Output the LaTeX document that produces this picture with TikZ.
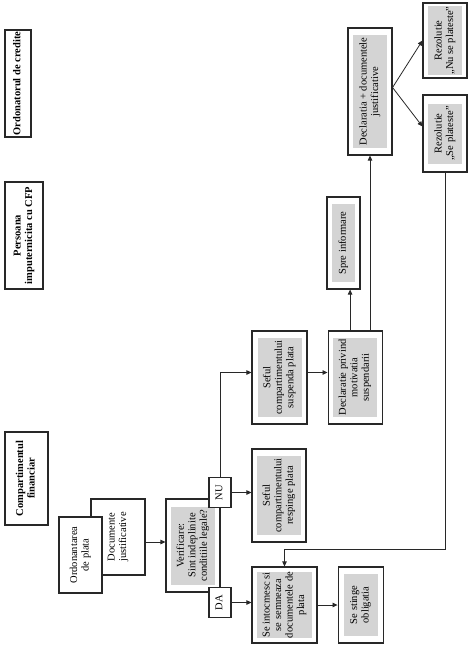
\documentclass[tikz,border=0pt]{standalone}
\usepackage{fontspec}
\setmainfont{Liberation Serif}
\usepackage{graphicx}
\usetikzlibrary{arrows.meta,positioning}
\definecolor{boxgray}{RGB}{212,212,212}
\definecolor{linegray}{RGB}{40,40,40}
\newcommand{\vtext}[1]{\rotatebox{90}{\begin{tabular}{@{}c@{}}#1\end{tabular}}}

\begin{document}
\begin{tikzpicture}[x=1pt,y=-1pt,
      arr/.style={-{Triangle[length=5pt,width=4.5pt]},line width=0.8pt,draw=linegray},
      box/.style={draw=linegray,line width=1.1pt,fill=white,inner sep=0pt,
                  font=\fontsize{10.5}{11.5}\selectfont},
      title/.style={box,font=\fontsize{10.5}{11.5}\selectfont\bfseries},
      lbl/.style={fill=boxgray,inner sep=0pt,font=\fontsize{10.5}{11.5}\selectfont}
    ]
    \useasboundingbox (0,0) rectangle (470,648);

    % actors
    \node[title,minimum width=26pt,minimum height=107pt] (ordcred) at (18,83.5)
          {\vtext{Ordonatorul de credite}};
    \node[title,minimum width=38pt,minimum height=107pt] (persoana) at (24,235.5)
          {\vtext{Persoana\\imputernicita cu CFP}};
    \node[title,minimum width=43pt,minimum height=93pt] (compart) at (26.5,478.5)
          {\vtext{Compartimentul\\financiar}};

    % input documents
    \node[box,minimum width=54pt,minimum height=76pt] (doc) at (118,537)
          {\vtext{Documente\\justificative}};
    \node[box,minimum width=43pt,minimum height=76pt] (ordplata) at (80.5,555)
          {\vtext{Ordonantarea\\de plata}};

    % check
    \node[box,minimum width=54pt,minimum height=93pt] (verif) at (193,545.5) {};
    \node[lbl,minimum width=44pt,minimum height=78pt] (verif-t) at (verif)
          {\vtext{Verificare:\\Sint indeplinite\\conditiile legale?}};
    \node[box,minimum width=22pt,minimum height=30pt] (NU) at (220,492.5) {\vtext{NU}};
    \node[box,minimum width=22pt,minimum height=30pt] (DA) at (220,602.5) {\vtext{DA}};

    % branch NU
    \node[box,minimum width=54pt,minimum height=93pt] (resp) at (279,495.5) {};
    \node[lbl,minimum width=44pt,minimum height=79pt] (resp-t) at (resp)
          {\vtext{Seful\\compartimentului\\respinge plata}};
    \node[box,minimum width=55pt,minimum height=93pt] (susp) at (279.5,377.5) {};
    \node[lbl,minimum width=44pt,minimum height=79pt] (susp-t) at (susp)
          {\vtext{Seful\\compartimentului\\suspenda plata}};
    \node[box,minimum width=54pt,minimum height=93pt,right=20pt of susp] (declpriv) {};
    \node[lbl,minimum width=44pt,minimum height=79pt] (declpriv-t) at (declpriv)
          {\vtext{Declaratie privind\\motivatia\\suspendarii}};
    \node[box,minimum width=33pt,minimum height=92pt] (spre) at (343.5,243) {};
    \node[lbl,minimum width=23pt,minimum height=78pt] (spre-t) at (spre)
          {\vtext{Spre informare}};
    \node[box,minimum width=44pt,minimum height=127pt] (decldoc) at (370,91.5) {};
    \node[lbl,minimum width=34pt,minimum height=113pt] (decldoc-t) at (decldoc)
          {\vtext{Declaratia + documentele\\justificative}};
    \node[box,minimum width=44pt,minimum height=75pt] (nuplat) at (445,40.5) {};
    \node[lbl,minimum width=34pt,minimum height=62pt] (nuplat-t) at (nuplat)
          {\vtext{Rezolutie\\„Nu se plateste”}};
    \node[box,minimum width=44pt,minimum height=77pt] (seplat) at (445,133.5) {};
    \node[lbl,minimum width=34pt,minimum height=60pt] (seplat-t) at (seplat)
          {\vtext{Rezolutie\\„Se plateste”}};

    % branch DA
    \node[box,minimum width=65pt,minimum height=76pt] (intoc) at (284.5,605) {};
    \node[lbl,minimum width=55pt,minimum height=62pt] (intoc-t) at (intoc)
          {\vtext{Se intocmesc si\\se semneaza\\documentele de\\plata}};
    \node[box,minimum width=45pt,minimum height=76pt,right=20pt of intoc] (stinge) {};
    \node[lbl,minimum width=34pt,minimum height=62pt] (stinge-t) at (stinge)
          {\vtext{Se stinge\\obligatia}};

    % connectors
    \coordinate (docout) at ([yshift=-5pt]doc.east);
    \coordinate (suspin) at ([yshift=5pt]susp.west);
    \coordinate (spreout) at ([xshift=-5pt]declpriv.north);
    \coordinate (split) at ([yshift=4pt]decldoc.east);
    \coordinate (seplatin) at ([yshift=7pt]seplat.west);
    \coordinate (ret) at ([yshift=17pt]intoc.north);

    \draw[arr] (docout) -- (docout -| verif.west);
    \draw[arr] (NU.east) -- (NU.east -| resp.west);
    \draw[arr] (DA.east) -- (DA.east -| intoc.west);
    \draw[arr] (NU.north) |- (suspin);
    \draw[arr] (suspin -| susp.east) -- (suspin -| declpriv.west);
    \draw[arr] (spreout) -- (spreout |- spre.south);
    \draw[arr] (declpriv.north -| decldoc.south) -- (decldoc.south);
    \draw[arr] (split) -- (nuplat.west);
    \draw[arr] (split) -- (seplatin);
    \draw[arr] (seplat.south) |- (ret) -- (intoc.north);
    \draw[arr] (intoc.east) -- (stinge.west);
  \end{tikzpicture}
\end{document}
